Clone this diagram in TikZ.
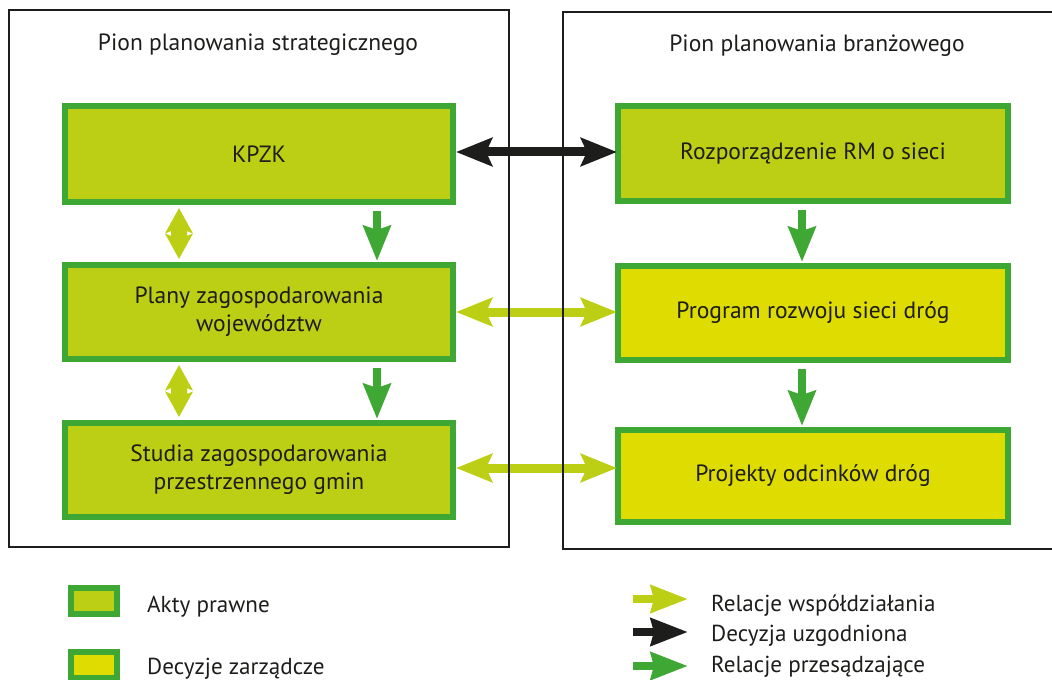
\documentclass[tikz,border=0pt]{standalone}
\usepackage{fontspec}
\setmainfont{PT Sans}
\usetikzlibrary{arrows.meta,calc}
\definecolor{dgreen}{RGB}{63,168,53}
\definecolor{lgreen}{RGB}{189,207,20}
\definecolor{yel}{RGB}{222,220,0}
\definecolor{blk}{RGB}{29,29,27}
\begin{document}
\begin{tikzpicture}[x=1bp,y=-1bp,
  font=\fontsize{23.6}{28}\selectfont,
  every node/.style={text=blk},
  frame/.style={draw=blk, line width=2.5bp, inner sep=0},
  akt/.style={draw=dgreen, fill=lgreen, line width=6bp, inner sep=0, align=center},
  dec/.style={akt, fill=yel},
  legtext/.style={anchor=west, inner sep=0, font=\fontsize{23.2}{28}\selectfont},
  hdbl/.style={line width=9bp, {Stealth[length=36bp,width=28bp,inset=6bp]}-{Stealth[length=36bp,width=28bp,inset=6bp]}},
  vhalf/.style={line width=16bp, lgreen, -{Stealth[length=25bp,width=27bp,inset=5bp]}},
  down/.style={line width=8bp, dgreen, -{Stealth[length=35bp,width=27bp,inset=4bp]}},
  legarrow/.style={line width=8bp, -{Stealth[length=37bp,width=27bp,inset=3bp]}}
]
\useasboundingbox (0,0) rectangle (1052,680);

% boxes, left column
\node[akt, minimum width=388bp, minimum height=96bp] (kpzk) at (259,154) {KPZK};
\node[akt, minimum width=388bp, minimum height=94bp] (plany) at (259,312) {Plany zagospodarowania\\województw};
\node[akt, minimum width=388bp, minimum height=94bp] (studia) at (259,470) {Studia zagospodarowania\\przestrzennego gmin};
% boxes, right column
\node[akt, minimum width=390bp, minimum height=95bp] (rozp) at (813,153.5) {Rozporządzenie RM o sieci};
\node[dec, minimum width=390bp, minimum height=94bp] (prog) at (813,313) {Program rozwoju sieci dróg};
\node[dec, minimum width=390bp, minimum height=92bp] (proj) at (813,476) {Projekty odcinków dróg};

% horizontal relations
\draw[hdbl, blk, shorten <=0bp, shorten >=-2bp] ($(kpzk.east)+(0,-2)$) -- ($(kpzk.east -| rozp.west)+(0,-2)$);
\draw[hdbl, lgreen, shorten <=0bp, shorten >=-2bp] (plany.east) -- (plany.east -| prog.west);
\draw[hdbl, lgreen, shorten <=0bp, shorten >=-2bp] ($(studia.east)+(0,-2)$) -- ($(studia.east -| proj.west)+(0,-2)$);

% vertical relations, left (double arrows drawn as two halves from the middle)
\coordinate (m1) at ($(kpzk.south)!0.5!(plany.north)+(-80,0)$);
\coordinate (m2) at ($(plany.south)!0.5!(studia.north)+(-80,0)$);
\draw[vhalf, shorten <=-3bp, shorten >=3bp] (m1) -- ($(kpzk.south)+(-80,0)$);
\draw[vhalf, shorten <=-3bp, shorten >=3bp] (m1) -- ($(plany.north)+(-80,0)$);
\draw[vhalf, shorten <=-3bp, shorten >=3bp] (m2) -- ($(plany.south)+(-80,0)$);
\draw[vhalf, shorten <=-3bp, shorten >=3bp] (m2) -- ($(studia.north)+(-80,0)$);
\draw[down, shorten <=6bp, shorten >=1bp] ($(kpzk.south)+(118,0)$) -- ($(plany.north)+(118,0)$);
\draw[down, shorten <=6bp, shorten >=1bp] ($(plany.south)+(118,0)$) -- ($(studia.north)+(118,0)$);
% vertical relations, right
\draw[down, shorten <=6bp, shorten >=1bp] ($(rozp.south)+(-11,0)$) -- ($(prog.north)+(-11,0)$);
\draw[down, shorten <=6bp, shorten >=1bp] ($(prog.south)+(-11,0)$) -- ($(proj.north)+(-11,0)$);

% frames
\node[frame, minimum width=500bp, minimum height=537bp] (fl) at (259,278.5) {};
\node[frame, minimum width=497bp, minimum height=537bp] (fr) at (811.5,280.5) {};
\node (t1) at (258,45) {Pion planowania strategicznego};
\node (t2) at (817,46) {Pion planowania branżowego};

% legend
\node[akt, minimum width=46bp, minimum height=26bp] (la) at (94,601) {};
\node[dec, minimum width=46bp, minimum height=26bp] (ld) at (94,665) {};
\node[legtext] (lat) at (147,607) {Akty prawne};
\node[legtext] (ldt) at (147,669) {Decyzje zarządcze};

\node[legtext] (r1) at (711,606) {Relacje współdziałania};
\node[legtext] (r2) at (711,636) {Decyzja uzgodniona};
\node[legtext] (r3) at (711,667) {Relacje przesądzające};
\coordinate (a1) at (633,599);
\coordinate (a2) at (633,632);
\coordinate (a3) at (633,666);
\draw[legarrow, lgreen] (a1) -- ++(55,0);
\draw[legarrow, blk] (a2) -- ++(55,0);
\draw[legarrow, dgreen] (a3) -- ++(55,0);
\end{tikzpicture}
\end{document}
